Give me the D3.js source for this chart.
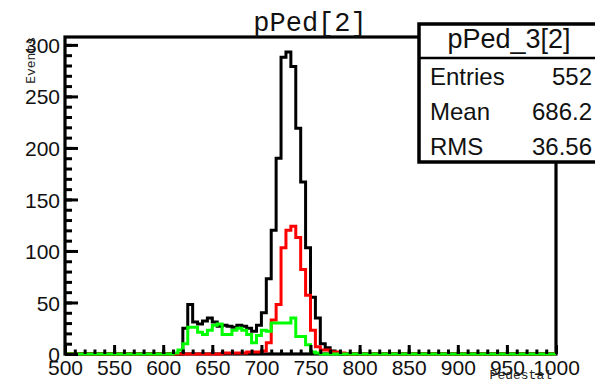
<!DOCTYPE html>
<html>
<head>
<meta charset="utf-8">
<script src="https://cdn.jsdelivr.net/npm/d3@7"></script>
<style>
  body { margin: 0; background: #fff; }
  svg { display: block; }
  .tick text { font-family: "Liberation Sans", Arial, Helvetica, sans-serif; font-size: 21px; fill: #111; }
</style>
</head>
<body>
<div id="chart"></div>
<script>
// bins of width 5 starting at 600 (everything else in 500..1000 is empty)
const binStart = 600;
const binWidth = 5;
const blackCounts = [0, 0, 0, 0, 25, 48, 31, 29, 32, 35, 31, 27, 28, 27, 26, 28, 27, 25, 22, 28,
  40, 73, 120, 190, 288, 293, 279, 219, 167, 103, 55, 35, 10, 6, 3, 1, 0, 0, 0, 0];
const redCounts = [0, 0, 0, 0, 0, 0, 0, 0, 0, 0, 0, 0, 1, 1, 1, 1, 1, 2, 2, 2,
  3, 11, 33, 48, 103, 120, 124, 113, 82, 57, 23, 7, 4, 4, 2, 2, 1, 0, 0, 0];
const greenCounts = [0, 0, 1, 4, 10, 26, 26, 21, 19, 23, 28, 29, 19, 19, 23, 25, 23, 19, 11, 18,
  23, 22, 30, 30, 30, 30, 35, 17, 17, 9, 2, 1, 0, 0, 0, 0, 0, 0, 0, 0];
const xTicks = [500, 550, 600, 650, 700, 750, 800, 850, 900, 950, 1000];
const yTicks = [0, 50, 100, 150, 200, 250, 300];
const statsRows = [["Entries", "552"], ["Mean", "686.2"], ["RMS", "36.56"]];

const width = 595, height = 384;
const frame = { left: 65, right: 556, top: 37, bottom: 354 };

const svg = d3.select('#chart').append('svg')
  .attr('width', width)
  .attr('height', height);

const x = d3.scaleLinear().domain([500, 1000]).range([frame.left, frame.right]);
const y = d3.scaleLinear().domain([0, 293 * 1.05]).range([frame.bottom, frame.top]);

// step outline of a histogram, running along zero outside the filled bins
function histPath(counts) {
  const pts = [[500, 0], [binStart, 0]];
  counts.forEach((c, i) => {
    const lo = binStart + i * binWidth;
    pts.push([lo, c], [lo + binWidth, c]);
  });
  pts.push([binStart + counts.length * binWidth, 0], [1000, 0]);
  return d3.line().x(d => x(d[0])).y(d => y(d[1]))(pts);
}

// frame
svg.append('rect')
  .attr('x', frame.left).attr('y', frame.top)
  .attr('width', frame.right - frame.left).attr('height', frame.bottom - frame.top)
  .attr('fill', 'none').attr('stroke', '#000').attr('stroke-width', 3.2);

// histograms
[[blackCounts, '#000'], [redCounts, '#ff0000'], [greenCounts, '#00ff00']].forEach(([counts, col]) => {
  svg.append('path')
    .attr('d', histPath(counts))
    .attr('fill', 'none')
    .attr('stroke', col)
    .attr('stroke-width', 3)
    .attr('stroke-linejoin', 'miter');
});

// axes: minor ticks first, then major ticks with labels
const xMinor = d3.range(500, 1001, 10);
const yMinor = d3.range(0, 301, 10);

svg.append('g')
  .attr('transform', `translate(0,${frame.bottom})`)
  .call(d3.axisBottom(x).tickValues(xMinor).tickSize(-4.5).tickFormat(''))
  .call(g => g.select('.domain').remove())
  .call(g => g.selectAll('line').attr('stroke-width', 3));

svg.append('g')
  .attr('transform', `translate(0,${frame.bottom})`)
  .call(d3.axisBottom(x).tickValues(xTicks).tickSize(-9).tickPadding(6).tickFormat(d3.format('d')))
  .call(g => g.select('.domain').remove())
  .call(g => g.selectAll('line').attr('stroke-width', 3));

svg.append('g')
  .attr('transform', `translate(${frame.left},0)`)
  .call(d3.axisLeft(y).tickValues(yMinor).tickSize(-7).tickFormat(''))
  .call(g => g.select('.domain').remove())
  .call(g => g.selectAll('line').attr('stroke-width', 3));

svg.append('g')
  .attr('transform', `translate(${frame.left},0)`)
  .call(d3.axisLeft(y).tickValues(yTicks).tickSize(-13).tickPadding(5).tickFormat(d3.format('d')))
  .call(g => g.select('.domain').remove())
  .call(g => g.selectAll('line').attr('stroke-width', 3))
  .call(g => g.selectAll('text').attr('dy', '0.36em'));

// axis titles
svg.append('text')
  .attr('x', 552).attr('y', 379)
  .attr('text-anchor', 'end')
  .attr('font-family', '"Liberation Mono", "Courier New", monospace')
  .attr('font-size', 13)
  .attr('fill', '#222')
  .text('Pedestal');

svg.append('text')
  .attr('transform', 'translate(35,37) rotate(-90)')
  .attr('text-anchor', 'end')
  .attr('font-family', '"Liberation Mono", "Courier New", monospace')
  .attr('font-size', 13)
  .attr('fill', '#222')
  .text('Events');

// title
svg.append('text')
  .attr('x', 310).attr('y', 31)
  .attr('text-anchor', 'middle')
  .attr('font-family', '"Liberation Mono", "Courier New", monospace')
  .attr('font-size', 27)
  .attr('fill', '#111')
  .text('pPed[2]');

// stats box
const stats = svg.append('g');
stats.append('rect')
  .attr('x', 419).attr('y', 24)
  .attr('width', 200).attr('height', 138)
  .attr('fill', '#fff').attr('stroke', '#000').attr('stroke-width', 3.5);
stats.append('line')
  .attr('x1', 419).attr('x2', 600)
  .attr('y1', 58).attr('y2', 58)
  .attr('stroke', '#000').attr('stroke-width', 2.5);
stats.append('text')
  .attr('x', 509).attr('y', 48)
  .attr('text-anchor', 'middle')
  .attr('font-family', '"Liberation Sans", Arial, Helvetica, sans-serif')
  .attr('font-size', 27)
  .attr('fill', '#111')
  .text('pPed_3[2]');
statsRows.forEach((row, i) => {
  const by = 85 + i * 35;
  stats.append('text')
    .attr('x', 430).attr('y', by)
    .attr('font-family', '"Liberation Sans", Arial, Helvetica, sans-serif')
    .attr('font-size', 24)
    .attr('fill', '#111')
    .text(row[0]);
  stats.append('text')
    .attr('x', 592).attr('y', by)
    .attr('text-anchor', 'end')
    .attr('font-family', '"Liberation Sans", Arial, Helvetica, sans-serif')
    .attr('font-size', 24)
    .attr('fill', '#111')
    .text(row[1]);
});
</script>
</body>
</html>
